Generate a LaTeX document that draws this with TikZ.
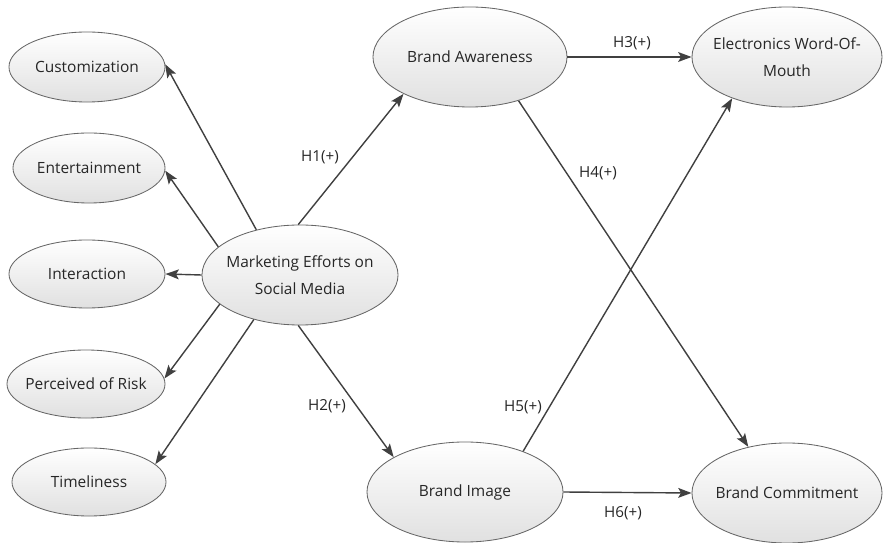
\documentclass[tikz,border=0pt]{standalone}
\usepackage{fontspec}
\setmainfont{Open Sans}
\usetikzlibrary{shapes.geometric,arrows.meta}
\newcommand\zw[1]{\makebox[0pt][c]{#1}}
\begin{document}
\begin{tikzpicture}[x=0.025cm,y=-0.025cm,
  ell/.style={ellipse,draw=black!60,line width=0.6pt,top color=white,bottom color=black!12,
    inner sep=0pt,align=center,font=\fontsize{11}{19}\selectfont,text=black!85},
  arr/.style={draw=black!75,line width=1pt,-{Stealth[length=9.5pt,width=7pt,inset=2pt]}},
  lbl/.style={font=\fontsize{10.8}{13}\selectfont,text=black!85}]
\useasboundingbox (0,0) rectangle (883,543);
\node[ell,minimum width=3.9cm,minimum height=1.75cm] (C) at (87,67) {\zw{Customization}};
\node[ell,minimum width=3.8cm,minimum height=1.75cm] (E) at (89,168) {\zw{Entertainment}};
\node[ell,minimum width=3.9cm,minimum height=1.7cm] (I) at (87,274) {\zw{Interaction}};
\node[ell,minimum width=3.95cm,minimum height=1.7cm] (P) at (86,384) {\zw{Perceived of Risk}};
\node[ell,minimum width=3.85cm,minimum height=1.7cm] (T) at (89,482) {\zw{Timeliness}};
\node[ell,minimum width=4.9cm,minimum height=2.5cm] (M) at (300,275) {\zw{Marketing Efforts on}\\\zw{Social Media}};
\node[ell,minimum width=4.85cm,minimum height=2.5cm] (BA) at (470,57) {\zw{Brand Awareness}};
\node[ell,minimum width=4.75cm,minimum height=2.5cm] (EW) at (787,57) {\zw{Electronics Word-Of-}\\\zw{Mouth}};
\node[ell,minimum width=4.9cm,minimum height=2.5cm] (BI) at (465,492) {\zw{Brand Image}};
\node[ell,minimum width=4.75cm,minimum height=2.5cm] (BC) at (787,493) {\zw{Brand Commitment}};
\draw[arr] (M.134) -- (C.2);
\draw[arr] (M.161) -- (E.-2);
\draw[arr] (M.180) -- (I.east);
\draw[arr] (M.200) -- (P.4);
\draw[arr] (M.224) -- (T.15);
\draw[arr] (M.92) -- (BA.209);
\draw[arr] (M.268) -- (BI.154);
\draw[arr] (BA.east) -- (EW.west);
\draw[arr] (BI.east) -- (BC.west);
\draw[arr] (BA.-42) -- (BC.130);
\draw[arr] (BI.35) -- (EW.217);
\node[lbl] (h1) at (320,157) {H1(+)};
\node[lbl] (h2) at (327,406) {H2(+)};
\node[lbl] (h3) at (632,43) {H3(+)};
\node[lbl] (h4) at (598,173) {H4(+)};
\node[lbl] (h5) at (523,407) {H5(+)};
\node[lbl] (h6) at (623,513) {H6(+)};
\end{tikzpicture}
\end{document}
